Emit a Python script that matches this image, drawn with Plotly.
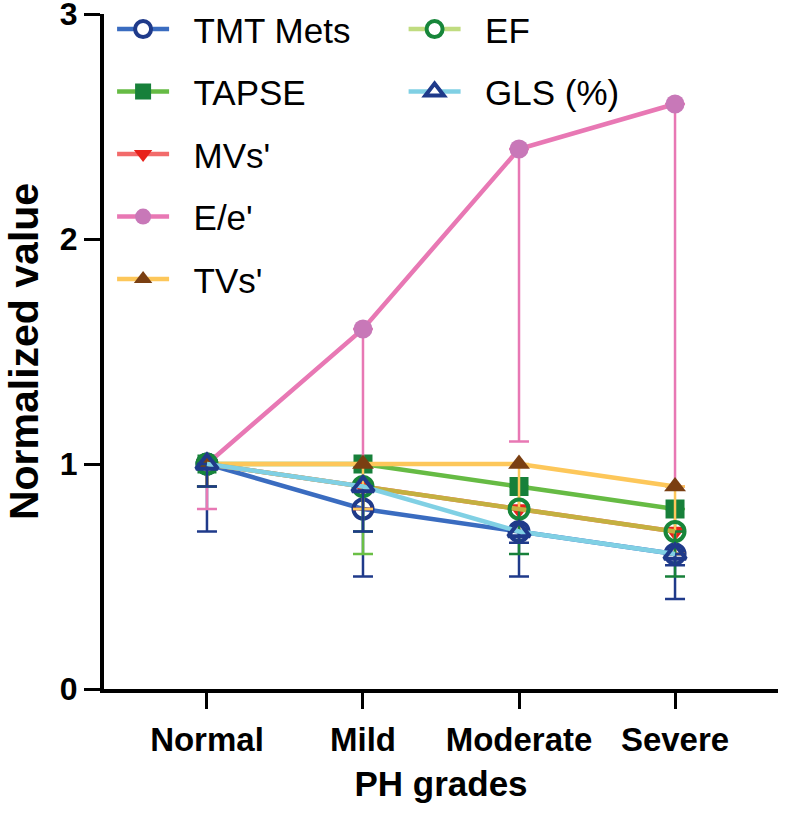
import plotly.graph_objects as go

categories = ["Normal", "Mild", "Moderate", "Severe"]

tmt_mets = [1.0, 0.8, 0.7, 0.6]
tmt_mets_err = [0.3, 0.3, 0.2, 0.2]
tapse = [1.0, 1.0, 0.9, 0.8]
tapse_err = [0.1, 0.4, 0.2, 0.2]
mvs = [1.0, 0.9, 0.8, 0.7]
mvs_err = [0.1, 0.1, 0.1, 0.1]
ee = [1.0, 1.6, 2.4, 2.6]
ee_err = [0.2, 0.6, 1.3, 1.7]
tvs = [1.0, 1.0, 1.0, 0.9]
tvs_err = [0.1, 0.2, 0.2, 0.3]
ef = [1.0, 0.9, 0.8, 0.7]
ef_err = [0.1, 0.2, 0.2, 0.2]
gls = [1.0, 0.9, 0.7, 0.6]
gls_err = [0.1, 0.2, 0.05, 0.05]

xpos = list(range(len(categories)))

# name, values, errors, line colour (plot), line colour (legend), marker symbol (plot),
# marker symbol (legend), marker fill, marker edge, error colour, legend id
series = [
    ("TMT Mets", tmt_mets, tmt_mets_err, "#3a6cc0", "#3a6cc0", "circle-open", "circle", "white", "#1f3a8a", "#1f3a8a", "legend"),
    ("TAPSE", tapse, tapse_err, "#66bb44", "#66bb44", "square", "square", "#17803a", "#17803a", "#6abf45", "legend"),
    ("MVs'", mvs, mvs_err, "#f26b6b", "#f26b6b", "triangle-down", "triangle-down", "#e8221c", "#e8221c", "#e8221c", "legend"),
    ("E/e'", ee, ee_err, "#e878b4", "#e878b4", "circle", "circle", "#c878b8", "#c878b8", "#e878b4", "legend"),
    ("TVs'", tvs, tvs_err, "#fdc75a", "#fdc75a", "triangle-up", "triangle-up", "#7a3f12", "#7a3f12", "#fdc75a", "legend"),
    ("EF", ef, ef_err, "#c4b040", "#c0dc80", "circle-open", "circle", "white", "#17863a", "#17803a", "legend2"),
    ("GLS (%)", gls, gls_err, "#80d0e4", "#80d0e4", "triangle-up-open", "triangle-up", "white", "#1f3a8a", "#1f3a8a", "legend2"),
]

fig = go.Figure()

for i, (name, vals, errs, lc, llc, sym, lsym, fill, edge, ec, leg) in enumerate(series):
    open_sym = sym.endswith("-open")
    fig.add_trace(go.Scatter(
        x=xpos, y=vals, mode="lines+markers", name=name, showlegend=False,
        line=dict(color=lc, width=4.5),
        marker=dict(symbol=sym, size=19,
                    color=edge if open_sym else fill,
                    line=dict(color=edge, width=4 if open_sym else 0)),
        error_y=dict(type="data", symmetric=False, array=[0] * len(errs), arrayminus=errs,
                     color=ec, thickness=2.5, width=10),
        cliponaxis=False,
    ))

for i, (name, vals, errs, lc, llc, sym, lsym, fill, edge, ec, leg) in enumerate(series):
    fig.add_trace(go.Scatter(
        x=[None], y=[None], mode="lines+markers", name="\u00a0\u00a0" + name, showlegend=True,
        legend=leg, legendgroup=name,
        line=dict(color=llc, width=4.5),
        marker=dict(symbol=lsym, size=20, color=fill,
                    line=dict(color=edge, width=4 if fill == "white" else 0)),
    ))

fig.update_layout(
    width=788, height=814,
    margin=dict(l=104, r=10, t=14, b=125, autoexpand=False),
    paper_bgcolor="white", plot_bgcolor="white",
    font=dict(family="Liberation Sans, Arial, sans-serif", color="black"),
    legend=dict(x=0.012, y=1.021, xanchor="left", yanchor="top", itemwidth=52,
                font=dict(size=35, color="black"), bgcolor="rgba(0,0,0,0)",
                tracegroupgap=14, traceorder="grouped"),
    legend2=dict(x=0.4445, y=1.021, xanchor="left", yanchor="top", itemwidth=52,
                 font=dict(size=35, color="black"), bgcolor="rgba(0,0,0,0)",
                 tracegroupgap=14, traceorder="grouped"),
)

fig.update_xaxes(
    range=[-0.66, 3.66], tickmode="array", tickvals=xpos, ticktext=categories,
    showline=True, linecolor="black", linewidth=4, showgrid=False, zeroline=False,
    ticks="outside", ticklen=16, tickwidth=3, tickcolor="black", automargin=False,
    tickfont=dict(size=33, family="Liberation Sans, Arial, sans-serif", color="black", weight="bold"),
    ticklabelstandoff=2, ticklabeloverflow="allow",
    title=dict(text="<b>PH grades</b>", font=dict(size=35, color="black"), standoff=16),
)
fig.update_yaxes(
    range=[0, 3], tickvals=[0, 1, 2, 3],
    showline=True, linecolor="black", linewidth=4, showgrid=False, zeroline=False,
    ticks="outside", ticklen=16, tickwidth=3, tickcolor="black", automargin=False,
    ticklabeloverflow="allow",
    tickfont=dict(size=32, family="Liberation Sans, Arial, sans-serif", color="black", weight="bold"),
    title=dict(text="<b>Normalized value</b>", font=dict(size=41, color="black"), standoff=9),
)

# remove the browser's default 8px page margin so the figure fills the window exactly
fig.write_html("out.html", config={"displayModeBar": False},
               post_script="document.body.style.margin='0';")
